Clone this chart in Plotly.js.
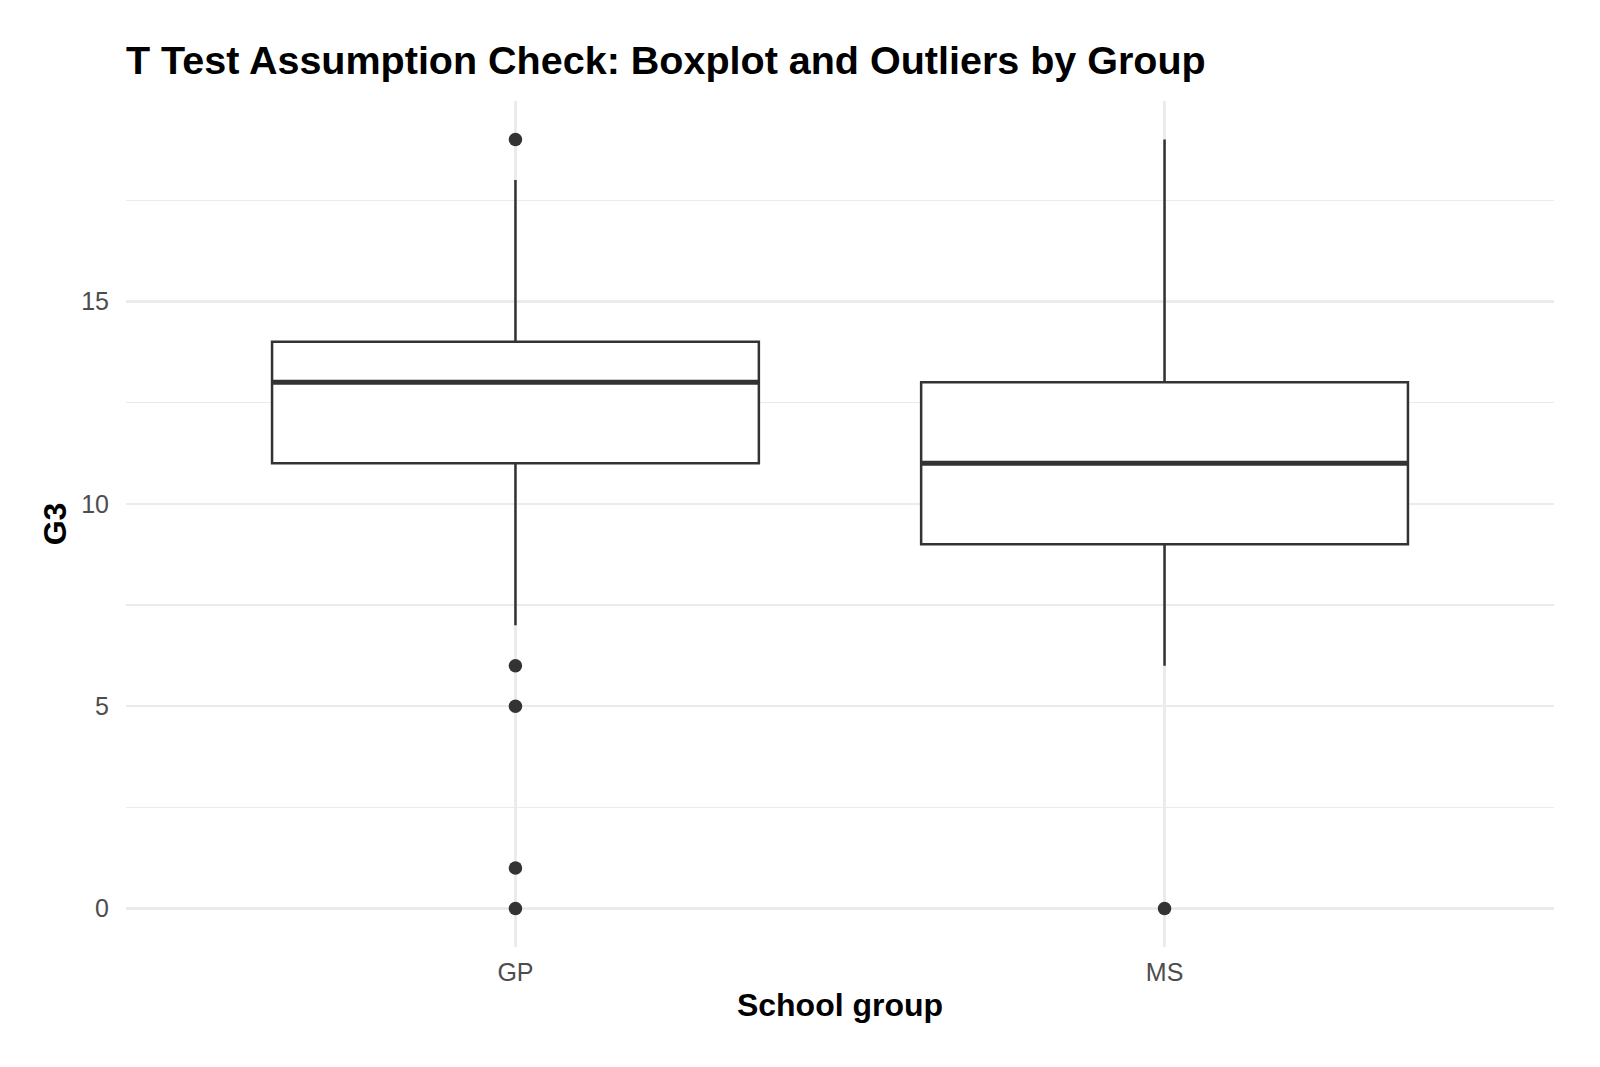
<!DOCTYPE html>
<html>
<head>
<meta charset="utf-8">
<script src="https://cdn.plot.ly/plotly-3.0.1.min.js"></script>
<style>html,body{margin:0;padding:0;background:#fff;}#chart{width:1600px;height:1067px;}</style>
</head>
<body>
<div id="chart"></div>
<script>
// Data
const groups = ["GP", "MS"];
const positions = [1, 2];
const q1 = [11, 9];
const medians = [13, 11];
const q3 = [14, 13];
const lowerWhisker = [7, 6];
const upperWhisker = [18, 19];
const outlierGroup = ["GP", "GP", "GP", "GP", "GP", "MS"];
const outlierValue = [19, 6, 5, 1, 0, 0];
const yTicks = [0, 5, 10, 15];

const boxWidth = 0.75;
const ink = "#333333";

const boxTrace = {
  type: "box",
  x: positions,
  q1: q1,
  median: medians,
  q3: q3,
  lowerfence: lowerWhisker,
  upperfence: upperWhisker,
  width: boxWidth,
  whiskerwidth: 0,
  boxpoints: false,
  fillcolor: "#ffffff",
  line: { color: ink, width: 2.5 },
  hoverinfo: "skip",
  showlegend: false
};

const mx = [], my = [];
positions.forEach((p, i) => {
  mx.push(p - boxWidth / 2, p + boxWidth / 2, null);
  my.push(medians[i], medians[i], null);
});
const medianTrace = {
  type: "scatter", mode: "lines", x: mx, y: my,
  line: { color: ink, width: 5 }, hoverinfo: "skip", showlegend: false
};

const outlierTrace = {
  type: "scatter", mode: "markers",
  x: outlierGroup.map(g => positions[groups.indexOf(g)]),
  y: outlierValue,
  marker: { color: ink, size: 13.5 },
  hoverinfo: "skip", showlegend: false
};

const layout = {
  width: 1600, height: 1067,
  margin: { l: 126, r: 46, t: 101, b: 120 },
  paper_bgcolor: "#ffffff", plot_bgcolor: "#ffffff",
  font: { family: "Liberation Sans, Arial, sans-serif", color: "#000" },
  title: {
    text: "<b>T Test Assumption Check: Boxplot and Outliers by Group</b>",
    font: { size: 39.5, color: "#000" },
    x: 0, xref: "paper", xanchor: "left",
    y: 1 - 60 / 1067, yref: "container", yanchor: "middle"
  },
  xaxis: {
    range: [0.4, 2.6],
    tickmode: "array", tickvals: positions, ticktext: groups,
    showgrid: true, gridcolor: "#EBEBEB", gridwidth: 2.4,
    zeroline: false, showline: false, ticks: "",
    tickfont: { size: 25, color: "#4D4D4D" },
    ticklabelstandoff: 8,
    title: { text: "<b>School group</b>", font: { size: 32, color: "#000" }, standoff: 8 }
  },
  yaxis: {
    range: [-0.95, 19.95],
    tickmode: "array", tickvals: yTicks,
    showgrid: true, gridcolor: "#EBEBEB", gridwidth: 2.4,
    minor: { tickmode: "array", tickvals: [2.5, 7.5, 12.5, 17.5], showgrid: true, gridcolor: "#EBEBEB", gridwidth: 1.2, ticks: "" },
    zeroline: false, showline: false, ticks: "",
    tickfont: { size: 25, color: "#4D4D4D" },
    ticklabelstandoff: 16,
    title: { text: "<b>G3</b>", font: { size: 32, color: "#000" }, standoff: 4 }
  }
};

Plotly.newPlot("chart", [boxTrace, medianTrace, outlierTrace], layout, { displayModeBar: false, staticPlot: true });
</script>
</body>
</html>
